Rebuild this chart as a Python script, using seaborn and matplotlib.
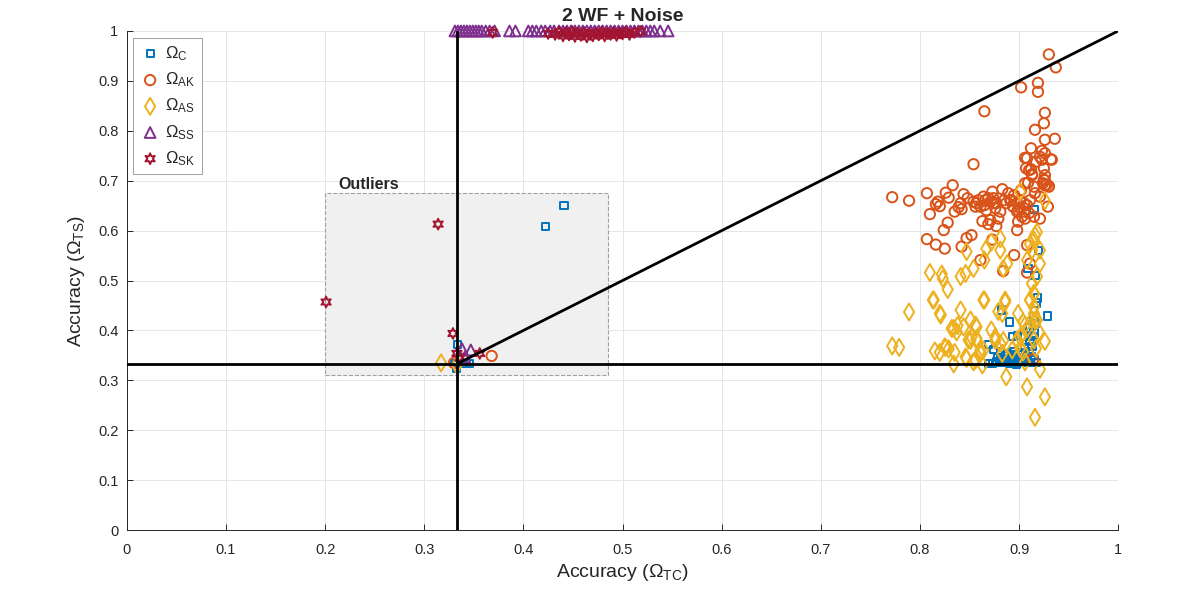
import numpy as np
import pandas as pd
import seaborn as sns
import matplotlib.pyplot as plt
from matplotlib.patches import Rectangle

# ---- data ----
c_x = [0.919, 0.929, 0.909, 0.916, 0.915, 0.920, 0.890, 0.882, 0.915, 0.916, 0.913, 0.911,
       0.904, 0.893, 0.898, 0.894, 0.888, 0.881, 0.874, 0.869, 0.869, 0.873, 0.877, 0.881,
       0.884, 0.888, 0.891, 0.894, 0.898, 0.901, 0.906, 0.910, 0.913, 0.915, 0.908, 0.885,
       0.887, 0.889, 0.892, 0.895, 0.896, 0.899, 0.902, 0.903, 0.905, 0.907, 0.886, 0.880,
       0.878, 0.893, 0.900, 0.911, 0.917, 0.912, 0.905, 0.897, 0.890, 0.915, 0.911, 0.918,
       0.441, 0.422, 0.334, 0.333, 0.346, 0.340, 0.333, 0.331]
c_y = [0.465, 0.429, 0.524, 0.510, 0.643, 0.561, 0.417, 0.441, 0.427, 0.414, 0.387, 0.377,
       0.387, 0.387, 0.390, 0.357, 0.354, 0.357, 0.361, 0.371, 0.334, 0.334, 0.337, 0.341,
       0.344, 0.337, 0.347, 0.341, 0.337, 0.346, 0.350, 0.357, 0.367, 0.341, 0.341, 0.336,
       0.340, 0.344, 0.334, 0.336, 0.344, 0.340, 0.335, 0.352, 0.342, 0.336, 0.350, 0.336,
       0.346, 0.351, 0.355, 0.336, 0.336, 0.348, 0.365, 0.332, 0.333, 0.395, 0.405, 0.455,
       0.651, 0.609, 0.371, 0.331, 0.334, 0.334, 0.324, 0.333]

ak_x = [0.930, 0.937, 0.902, 0.919, 0.919, 0.865, 0.926, 0.925, 0.916, 0.936, 0.926, 0.912,
        0.923, 0.926, 0.921, 0.906, 0.932, 0.917, 0.854, 0.907, 0.912, 0.925, 0.913, 0.926,
        0.926, 0.909, 0.924, 0.928, 0.930, 0.833, 0.772, 0.789, 0.807, 0.810, 0.816, 0.818,
        0.820, 0.826, 0.829, 0.828, 0.824, 0.807, 0.816, 0.825, 0.844, 0.848, 0.841, 0.839,
        0.835, 0.842, 0.854, 0.859, 0.861, 0.864, 0.865, 0.867, 0.871, 0.873, 0.874, 0.877,
        0.881, 0.883, 0.885, 0.889, 0.891, 0.895, 0.898, 0.898, 0.901, 0.903, 0.863, 0.869,
        0.877, 0.879, 0.871, 0.898, 0.899, 0.906, 0.905, 0.915, 0.921, 0.908, 0.911, 0.916,
        0.921, 0.926, 0.929, 0.906, 0.910, 0.913, 0.908, 0.923, 0.933, 0.925, 0.930, 0.852,
        0.847, 0.842, 0.861, 0.873, 0.895, 0.884, 0.908, 0.911, 0.908, 0.856, 0.857, 0.866,
        0.869, 0.874, 0.876, 0.887, 0.892, 0.894, 0.899, 0.901, 0.905, 0.910, 0.902, 0.915,
        0.914, 0.368, 0.330]
ak_y = [0.953, 0.927, 0.887, 0.896, 0.878, 0.839, 0.836, 0.815, 0.802, 0.784, 0.782, 0.765,
        0.760, 0.755, 0.748, 0.746, 0.743, 0.738, 0.733, 0.725, 0.723, 0.725, 0.713, 0.711,
        0.701, 0.696, 0.695, 0.692, 0.689, 0.691, 0.667, 0.660, 0.675, 0.633, 0.653, 0.658,
        0.649, 0.676, 0.666, 0.616, 0.601, 0.583, 0.572, 0.564, 0.673, 0.665, 0.655, 0.647,
        0.638, 0.643, 0.658, 0.661, 0.648, 0.668, 0.651, 0.641, 0.658, 0.678, 0.665, 0.655,
        0.638, 0.683, 0.661, 0.675, 0.661, 0.671, 0.655, 0.638, 0.645, 0.628, 0.619, 0.613,
        0.609, 0.624, 0.621, 0.601, 0.618, 0.624, 0.638, 0.628, 0.624, 0.651, 0.661, 0.675,
        0.668, 0.691, 0.648, 0.695, 0.721, 0.711, 0.745, 0.742, 0.742, 0.702, 0.688, 0.591,
        0.585, 0.568, 0.541, 0.582, 0.551, 0.519, 0.571, 0.534, 0.516, 0.648, 0.655, 0.661,
        0.665, 0.655, 0.645, 0.655, 0.661, 0.648, 0.641, 0.661, 0.655, 0.635, 0.681, 0.688,
        0.342, 0.349, 0.335]

as_x = [0.789, 0.772, 0.779, 0.810, 0.822, 0.823, 0.828, 0.813, 0.820, 0.821, 0.841, 0.834,
        0.838, 0.837, 0.844, 0.815, 0.820, 0.826, 0.829, 0.835, 0.834, 0.847, 0.841, 0.846,
        0.854, 0.865, 0.867, 0.872, 0.881, 0.881, 0.888, 0.884, 0.864, 0.851, 0.856, 0.852,
        0.857, 0.849, 0.846, 0.854, 0.861, 0.864, 0.872, 0.876, 0.879, 0.886, 0.883, 0.881,
        0.883, 0.899, 0.904, 0.906, 0.908, 0.903, 0.898, 0.901, 0.904, 0.906, 0.915, 0.916,
        0.920, 0.915, 0.917, 0.901, 0.926, 0.918, 0.916, 0.915, 0.911, 0.913, 0.908, 0.921,
        0.921, 0.918, 0.913, 0.915, 0.911, 0.915, 0.913, 0.921, 0.887, 0.908, 0.926, 0.916,
        0.926, 0.814, 0.865, 0.886, 0.915, 0.911, 0.857, 0.832, 0.851, 0.857, 0.884, 0.901,
        0.825, 0.847, 0.856, 0.863, 0.893, 0.918, 0.861, 0.876, 0.317, 0.333]
as_y = [0.437, 0.369, 0.366, 0.516, 0.513, 0.504, 0.482, 0.461, 0.434, 0.431, 0.441, 0.404,
        0.410, 0.397, 0.407, 0.359, 0.356, 0.366, 0.363, 0.356, 0.333, 0.558, 0.508, 0.514,
        0.524, 0.541, 0.564, 0.577, 0.584, 0.561, 0.534, 0.524, 0.461, 0.421, 0.411, 0.387,
        0.381, 0.381, 0.347, 0.337, 0.354, 0.361, 0.401, 0.387, 0.438, 0.461, 0.434, 0.374,
        0.354, 0.434, 0.417, 0.411, 0.404, 0.391, 0.381, 0.364, 0.357, 0.337, 0.434, 0.421,
        0.397, 0.381, 0.364, 0.678, 0.660, 0.597, 0.591, 0.581, 0.573, 0.561, 0.541, 0.561,
        0.534, 0.508, 0.494, 0.474, 0.461, 0.447, 0.421, 0.322, 0.307, 0.287, 0.267, 0.226,
        0.378, 0.461, 0.461, 0.457, 0.474, 0.461, 0.407, 0.404, 0.380, 0.384, 0.380, 0.387,
        0.367, 0.344, 0.341, 0.331, 0.361, 0.421, 0.361, 0.380, 0.335, 0.331]

ss_x = [0.331, 0.334, 0.337, 0.340, 0.343, 0.346, 0.349, 0.352, 0.355, 0.358, 0.362, 0.366,
        0.371, 0.386, 0.392, 0.405, 0.409, 0.413, 0.418, 0.422, 0.427, 0.431, 0.436, 0.440,
        0.444, 0.448, 0.452, 0.456, 0.460, 0.464, 0.468, 0.472, 0.476, 0.480, 0.484, 0.488,
        0.492, 0.496, 0.500, 0.504, 0.508, 0.512, 0.516, 0.520, 0.524, 0.528, 0.532, 0.538,
        0.546, 0.347, 0.338, 0.341]
ss_y = [1.0] * 49 + [0.361, 0.364, 0.347]

sk_x = [0.369, 0.425, 0.432, 0.436, 0.440, 0.443, 0.446, 0.449, 0.452, 0.455, 0.458, 0.461,
        0.464, 0.467, 0.470, 0.473, 0.476, 0.479, 0.482, 0.485, 0.488, 0.491, 0.494, 0.497,
        0.500, 0.503, 0.507, 0.512, 0.518, 0.201, 0.314, 0.329, 0.333, 0.356, 0.336]
sk_y = [0.997, 0.995, 0.993, 0.998, 0.990, 0.996, 0.992, 0.999, 0.989, 0.995, 0.991, 0.997,
        0.988, 0.994, 0.990, 0.996, 0.992, 0.998, 0.990, 0.995, 0.993, 0.997, 0.991, 0.996,
        0.994, 0.998, 0.993, 0.997, 0.999, 0.457, 0.613, 0.394, 0.354, 0.354, 0.345]

series = [
    (r"$\Omega_{C}$", c_x, c_y, "s", "#0072BD", 26),
    (r"$\Omega_{AK}$", ak_x, ak_y, "o", "#D95319", 55),
    (r"$\Omega_{AS}$", as_x, as_y, "d", "#EDB120", 75),
    (r"$\Omega_{SS}$", ss_x, ss_y, "^", "#7E2F8E", 60),
    (r"$\Omega_{SK}$", sk_x, sk_y, (6, 1, 0), "#A2142F", 60),
]

sns.set_theme(style="whitegrid")
plt.rcParams["font.family"] = ["Liberation Sans", "DejaVu Sans"]
plt.rcParams["mathtext.default"] = "regular"
plt.rcParams["xtick.direction"] = "in"
plt.rcParams["ytick.direction"] = "in"

fig = plt.figure(figsize=(11.96, 5.95), dpi=100)
ax = fig.add_axes([0.106, 0.109, 0.829, 0.839])

# outlier region
ax.add_patch(Rectangle((0.2, 0.31), 0.285, 0.365, facecolor="#f0f0f0",
                       edgecolor="#a0a0a0", linestyle="--", linewidth=0.8, zorder=1))
ax.text(0.213, 0.683, "Outliers", fontsize=11.5, fontweight="bold", zorder=5)

for label, xs, ys, mk, col, size in series:
    df = pd.DataFrame({"x": xs, "y": ys})
    sns.scatterplot(data=df, x="x", y="y", ax=ax, marker=mk, s=size,
                    facecolor="none", edgecolor=col, linewidth=1.4,
                    label=label, clip_on=False, zorder=3)

third = 1 / 3
ax.plot([0, 1], [third, third], color="black", linewidth=2, zorder=4)
ax.plot([third, third], [0, 1], color="black", linewidth=2, zorder=4)
ax.plot([third, 1], [third, 1], color="black", linewidth=2, zorder=4)

ax.set_xlim(0, 1)
ax.set_ylim(0, 1)
ticks = np.arange(0, 1.01, 0.1)
ticklabels = ["0"] + [f"{t:.1f}" for t in ticks[1:-1]] + ["1"]
ax.set_xticks(ticks)
ax.set_yticks(ticks)
ax.set_xticklabels(ticklabels)
ax.set_yticklabels(ticklabels)
ax.tick_params(axis="both", which="both", direction="in", length=4, width=0.7,
               labelsize=10.5, colors="#262626", left=True, bottom=True)
ax.tick_params(axis="x", pad=9)
ax.tick_params(axis="y", pad=6)
ax.grid(True, color="#e6e6e6", linewidth=0.7)
ax.set_facecolor("white")
for side in ["top", "right"]:
    ax.spines[side].set_visible(False)
for side in ["left", "bottom"]:
    ax.spines[side].set_color("#262626")
    ax.spines[side].set_linewidth(0.7)

ax.set_xlabel(r"Accuracy ($\Omega_{TC}$)", fontsize=14, color="#262626", labelpad=4)
ax.set_ylabel(r"Accuracy ($\Omega_{TS}$)", fontsize=14, color="#262626", labelpad=8)
ax.set_title("2 WF + Noise", fontsize=14, fontweight="bold", pad=7)

leg = ax.legend(loc="upper left", fontsize=12, frameon=True, fancybox=False,
                edgecolor="#a0a0a0", framealpha=1, borderaxespad=0.4,
                handletextpad=0.3, labelspacing=0.45, handlelength=1.2)
leg.get_frame().set_linewidth(0.7)

fig.savefig("out.png", dpi=100)
